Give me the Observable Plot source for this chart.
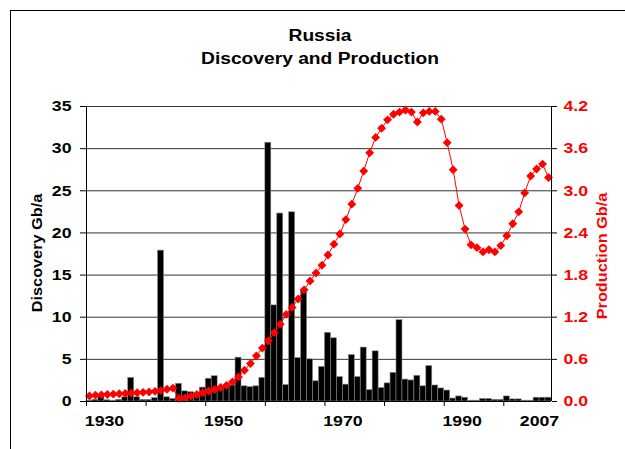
<!DOCTYPE html>
<html>
<head>
<meta charset="utf-8">
<script src="https://cdn.jsdelivr.net/npm/d3@7"></script>
<script src="https://cdn.jsdelivr.net/npm/@observablehq/plot@0.6"></script>
<style>
  html, body { margin: 0; padding: 0; background: #fff; overflow: hidden; }
  body { width: 625px; height: 449px; position: relative; font-family: "Liberation Sans", Arial, sans-serif; }
  #frame { position: absolute; left: 10px; top: 10px; width: 700px; height: 600px; border: 1px solid #000; box-sizing: border-box; }
  #title { position: absolute; left: 0; width: 640px; top: 24px; text-align: center; font-weight: bold; font-size: 16px; line-height: 23px; color: #000; transform: scaleX(1.2); transform-origin: 320px 0; }
  #chart { position: absolute; left: 0; top: 0; }
  .ylab { position: absolute; font-weight: bold; font-size: 15.5px; white-space: nowrap; transform: translate(-50%, -50%) rotate(-90deg) scaleX(1.05); }
</style>
</head>
<body>
<div id="frame"></div>
<div id="chart"></div>
<div id="title">Russia<br>Discovery and Production</div>
<div class="ylab" style="left:37px; top:253px; color:#000;">Discovery Gb/a</div>
<div class="ylab" style="left:602px; top:256px; color:#ff0000;">Production Gb/a</div>
<script>
const years = d3.range(1930, 2008);

const discovery = [
  0.1, 0.2, 0.55, 0.15, 0.1, 0.2, 0.5, 2.8, 0.5, 0.2,
  0.2, 0.4, 17.9, 0.5, 0.3, 2.1, 1.2, 1.1, 1.0, 1.65,
  2.7, 3.0, 1.65, 1.8, 1.9, 5.2, 1.8, 1.7, 1.8, 2.8,
  30.7, 11.4, 22.3, 1.95, 22.45, 5.15, 13.15, 5.0, 2.4, 4.1,
  8.15, 7.5, 2.9, 2.0, 5.5, 2.9, 6.4, 1.35, 5.95, 1.6,
  2.15, 3.4, 9.65, 2.6, 2.5, 3.05, 1.8, 4.2, 1.9, 1.55,
  1.3, 0.35, 0.6, 0.45, 0.1, 0.1, 0.3, 0.3, 0.2, 0.2,
  0.6, 0.25, 0.25, 0.1, 0.1, 0.45, 0.45, 0.45
];

const production = [
  0.08, 0.09, 0.095, 0.10, 0.105, 0.11, 0.115, 0.12, 0.125, 0.13,
  0.135, 0.145, 0.155, 0.175, 0.19, 0.045, 0.05, 0.077, 0.10, 0.125,
  0.15, 0.17, 0.20, 0.23, 0.28, 0.35, 0.445, 0.54, 0.65, 0.76,
  0.865, 0.98, 1.10, 1.24, 1.34, 1.46, 1.59, 1.715, 1.83, 1.94,
  2.085, 2.24, 2.385, 2.59, 2.81, 3.035, 3.28, 3.54, 3.76, 3.89,
  4.01, 4.09, 4.12, 4.15, 4.12, 3.98, 4.11, 4.13, 4.13, 4.02,
  3.685, 3.30, 2.79, 2.455, 2.23, 2.19, 2.13, 2.16, 2.13, 2.22,
  2.36, 2.53, 2.70, 2.97, 3.21, 3.31, 3.38, 3.19
];

const leftTicks = [0, 5, 10, 15, 20, 25, 30, 35];
const rightTicks = [0.0, 0.6, 1.2, 1.8, 2.4, 3.0, 3.6, 4.2];
const xTickMarks = [1930, 1940, 1950, 1960, 1970, 1980, 1990, 2000];
const xLabelsMain = [1930, 1950, 1970, 1990];
const xLabelsEnd = [2007];

const k = 35 / 4.2;
const data = years.map((y, i) => ({year: y, disc: discovery[i], prod: production[i]}));

const font = {fontWeight: "bold", fontSize: 15};

const chart = Plot.plot({
  width: 625,
  height: 449,
  marginLeft: 86,
  marginRight: 74,
  marginTop: 106,
  marginBottom: 48,
  style: {background: "transparent", fontFamily: "'Liberation Sans', Arial, sans-serif", color: "#000"},
  x: {domain: [1930, 2008]},
  y: {domain: [0, 35]},
  marks: [
    Plot.ruleY(leftTicks.slice(1), {stroke: "#333", strokeWidth: 1}),
    Plot.rectY(data, {x1: "year", x2: d => d.year + 1, y: "disc", fill: "#000", stroke: "#888", strokeWidth: 0.6}),
    Plot.line(data, {x: d => d.year + 0.5, y: d => d.prod * k, stroke: "#ff0000", strokeWidth: 1}),
    Plot.dot(data, {x: d => d.year + 0.5, y: d => d.prod * k, symbol: "diamond2", r: 4, fill: "#ff0000", stroke: "none"}),
    Plot.ruleY([0], {stroke: "#000", strokeWidth: 1}),
    Plot.ruleX([1930, 2008], {stroke: "#000", strokeWidth: 1}),
    Plot.axisY({ticks: leftTicks, tickSize: 6, tickPadding: 9, label: null, ...font, fill: "#000"}),
    Plot.axisY({anchor: "right", ticks: rightTicks.map(v => v * k), tickFormat: v => (v / k).toFixed(1), tickSize: 5, tickPadding: 7, label: null, ...font, color: "#ff0000", stroke: "#000"}),
    Plot.axisX({ticks: xTickMarks, tickFormat: () => "", tickSize: 5, label: null}),
    Plot.axisX({ticks: xLabelsMain, tickSize: 0, tickPadding: 14, dx: 18, label: null, tickFormat: d => String(d), ...font}),
    Plot.axisX({ticks: xLabelsEnd, tickSize: 0, tickPadding: 14, dx: -6, label: null, tickFormat: d => String(d), ...font})
  ]
});
// widen tick label glyphs horizontally to match the reference's stretched text
chart.querySelectorAll('g[aria-label$="tick label"] text').forEach(t => {
  const tr = t.getAttribute("transform") || "";
  t.setAttribute("transform", tr + " scale(1.18,1)");
});
document.getElementById("chart").appendChild(chart);
</script>
</body>
</html>
